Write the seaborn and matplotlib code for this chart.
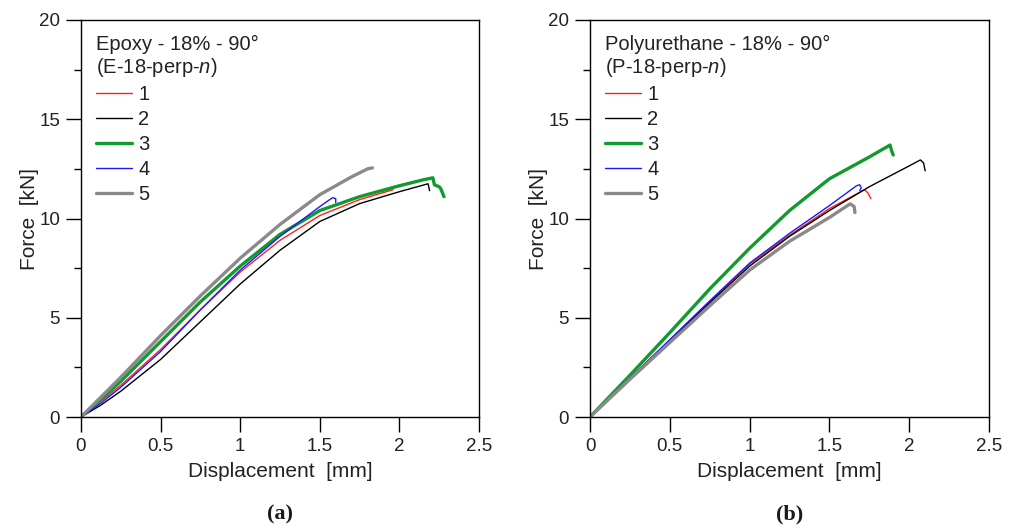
import matplotlib
matplotlib.use("Agg")
import matplotlib.pyplot as plt
from matplotlib.ticker import MultipleLocator
import seaborn as sns
import pandas as pd

# ---------------- data ----------------
specimens = ["1", "2", "3", "4", "5"]
colors = ["#ff2020", "#000000", "#119a2e", "#1a1aff", "#8a8a8a"]
widths = [1.0, 1.0, 2.4, 1.0, 2.4]

# Epoxy - 18% - 90°
e1_x = [0, 0.125, 0.25, 0.5, 0.75, 1.0, 1.25, 1.5, 1.75, 1.96]
e1_y = [0, 0.8, 1.6, 3.4, 5.4, 7.3, 8.9, 10.15, 10.95, 11.45]
e2_x = [0, 0.125, 0.25, 0.5, 0.75, 1.0, 1.25, 1.5, 1.75, 2.0, 2.18, 2.19]
e2_y = [0, 0.6, 1.3, 2.9, 4.8, 6.7, 8.4, 9.85, 10.75, 11.35, 11.75, 11.4]
e3_x = [0, 0.125, 0.25, 0.5, 0.75, 1.0, 1.25, 1.5, 1.75, 2.0, 2.15, 2.21, 2.22, 2.25, 2.26, 2.28]
e3_y = [0, 0.9, 1.8, 3.8, 5.8, 7.6, 9.2, 10.4, 11.1, 11.65, 11.95, 12.05, 11.7, 11.6, 11.5, 11.1]
e4_x = [0, 0.125, 0.25, 0.5, 0.75, 1.0, 1.25, 1.5, 1.58, 1.6, 1.6]
e4_y = [0, 0.7, 1.5, 3.3, 5.4, 7.4, 9.1, 10.6, 11.05, 11.0, 10.8]
e5_x = [0, 0.125, 0.25, 0.5, 0.75, 1.0, 1.25, 1.5, 1.7, 1.8, 1.83]
e5_y = [0, 1.0, 2.0, 4.1, 6.1, 8.0, 9.7, 11.2, 12.1, 12.5, 12.55]

# Polyurethane - 18% - 90°
p1_x = [0, 0.25, 0.5, 0.75, 1.0, 1.25, 1.5, 1.72, 1.74, 1.76]
p1_y = [0, 1.95, 3.85, 5.8, 7.7, 9.15, 10.5, 11.45, 11.3, 11.0]
p2_x = [0, 0.25, 0.5, 0.75, 1.0, 1.25, 1.5, 1.75, 2.0, 2.07, 2.09, 2.1]
p2_y = [0, 1.95, 3.85, 5.75, 7.6, 9.1, 10.4, 11.6, 12.65, 12.95, 12.8, 12.4]
p3_x = [0, 0.25, 0.5, 0.75, 1.0, 1.25, 1.5, 1.75, 1.88, 1.89, 1.9]
p3_y = [0, 2.1, 4.25, 6.45, 8.5, 10.4, 12.0, 13.1, 13.7, 13.4, 13.2]
p4_x = [0, 0.25, 0.5, 0.75, 1.0, 1.25, 1.5, 1.67, 1.69, 1.70, 1.69]
p4_y = [0, 1.95, 3.9, 5.85, 7.75, 9.25, 10.65, 11.65, 11.7, 11.55, 11.4]
p5_x = [0, 0.25, 0.5, 0.75, 1.0, 1.25, 1.5, 1.63, 1.655, 1.66]
p5_y = [0, 1.9, 3.75, 5.6, 7.4, 8.85, 10.05, 10.74, 10.6, 10.3]

x_ticks = [0, 0.5, 1, 1.5, 2, 2.5]
x_tick_labels = ["0", "0.5", "1", "1.5", "2", "2.5"]
y_ticks = [0, 5, 10, 15, 20]

panels = [
    ("Epoxy - 18% - 90°\n(E-18-perp-$n$)", "(a)",
     [(e1_x, e1_y), (e2_x, e2_y), (e3_x, e3_y), (e4_x, e4_y), (e5_x, e5_y)]),
    ("Polyurethane - 18% - 90°\n(P-18-perp-$n$)", "(b)",
     [(p1_x, p1_y), (p2_x, p2_y), (p3_x, p3_y), (p4_x, p4_y), (p5_x, p5_y)]),
]

# ---------------- style ----------------
sns.set_theme(style="ticks")
plt.rcParams["font.family"] = ["Liberation Sans", "DejaVu Sans"]
plt.rcParams["mathtext.fontset"] = "custom"
plt.rcParams["mathtext.it"] = "Liberation Sans:italic"
plt.rcParams["mathtext.rm"] = "Liberation Sans"

fig = plt.figure(figsize=(10.14, 5.27), dpi=100)
positions = [[81 / 1014, 110 / 527, 398 / 1014, 397 / 527],
             [590 / 1014, 110 / 527, 399 / 1014, 397 / 527]]

for (title, caption, series), pos in zip(panels, positions):
    ax = fig.add_axes(pos)
    for name, (xs, ys), c, lw in zip(specimens, series, colors, widths):
        df = pd.DataFrame({"Displacement": xs, "Force": ys})
        sns.lineplot(data=df, x="Displacement", y="Force", ax=ax, color=c,
                     lw=lw, sort=False, estimator=None, label=name)
    ax.set_xlim(0, 2.5)
    ax.set_ylim(0, 20)
    ax.set_xticks(x_ticks)
    ax.set_xticklabels(x_tick_labels)
    ax.set_yticks(y_ticks)
    ax.yaxis.set_minor_locator(MultipleLocator(2.5))
    ax.tick_params(which="major", direction="out", length=11, width=1,
                   labelsize=13.5, colors="black", pad=4,
                   labelcolor="#222222")
    ax.tick_params(which="minor", axis="y", direction="out", length=5,
                   width=1, colors="black")
    for s in ax.spines.values():
        s.set_visible(True)
        s.set_linewidth(1.0)
        s.set_color("black")
    ax.set_xlabel("Displacement  [mm]", fontsize=15, labelpad=5,
                  color="#222222")
    ax.set_ylabel("Force  [kN]", fontsize=15, labelpad=0, color="#222222")
    leg = ax.legend(title=title, loc="upper left", frameon=False,
                    fontsize=14.5, title_fontsize=14.5, handlelength=1.8,
                    handletextpad=0.3, labelspacing=0.3,
                    borderaxespad=0.35, alignment="left")
    leg.get_title().set_color("#222222")
    leg.get_title().set_linespacing(1.1)
    for t in leg.get_texts():
        t.set_color("#222222")
    ax.text(0.5, -0.245, caption, transform=ax.transAxes, ha="center",
            va="center", fontsize=16, fontweight="bold",
            family="Liberation Serif", color="#1a1a1a")

fig.savefig("out.png", dpi=100)
